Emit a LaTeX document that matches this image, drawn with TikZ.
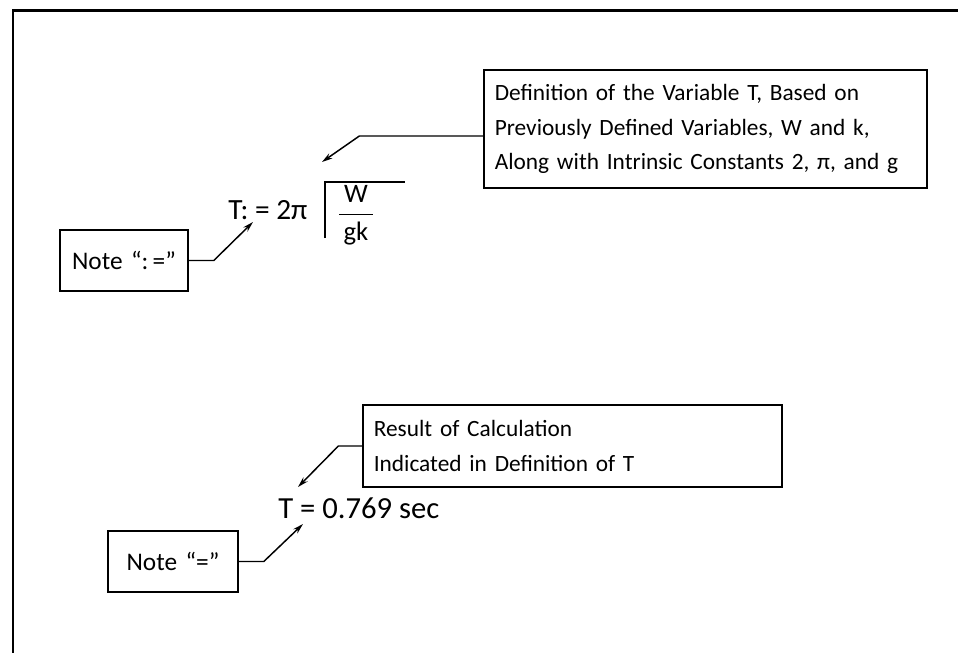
\documentclass[tikz,border=0pt]{standalone}
\usepackage{fontspec}
\setmainfont{Carlito}
\usetikzlibrary{arrows.meta}

\begin{document}
\begin{tikzpicture}[x=0.75pt,y=0.75pt,yscale=-1,xscale=1,
  notebox/.style={draw,line width=1.2pt,rectangle,inner xsep=8pt,inner ysep=0pt,align=left,font=\fontsize{17.5}{26}\selectfont},
  link/.style={line width=1.1pt,-{Stealth[length=8pt,width=4.5pt]}},
  formula/.style={inner sep=0pt,font=\fontsize{22}{24}\selectfont}]
\useasboundingbox (0,0) rectangle (958,653);

% Frame
\draw[line width=2pt] (13,653) -- (13,10.5) -- (958,10.5);

% Text Node
\node[notebox,text width=316pt,minimum height=88.5pt] (defbox) at (705.5,129)
  {Definition of the Variable T, Based on\\Previously Defined Variables, W and k,\\Along with Intrinsic Constants 2, π, and g};
% Text Node
\node[notebox,align=center,font=\fontsize{19}{22}\selectfont,text width=80pt,minimum height=45.75pt] (defnote) at (124,260.5) {Note “:\,=”};
% Text Node
\node[formula,anchor=base west] (defeq) at (228,219) {T: = 2π};
% Text Node
\node[inner sep=0pt,font=\fontsize{20}{22}\selectfont] (frac) at (356,215)
  {$\displaystyle\frac{\mbox{\,W\,}}{\mbox{\,gk\,}}$};
% Radical
\draw[line width=1.1pt] (325,238) -- (325,182) -- (405,182);

% Text Node
\node[notebox,text width=298pt,minimum height=61.5pt] (resbox) at (572.5,446)
  {Result of Calculation\\Indicated in Definition of T};
% Text Node
\node[formula,font=\fontsize{23}{26}\selectfont,anchor=west] (resval) at (278,508) {T = 0.769 sec};
% Text Node
\node[notebox,align=center,font=\fontsize{19}{22}\selectfont,text width=81.5pt,minimum height=45.75pt] (resnote) at (173,561.5) {Note “=”};

% Arrow tips
\coordinate (defTip) at (322,162);
\coordinate (colonTip) at (253,222);
\coordinate (resTip) at (298,487);
\coordinate (eqTip) at (303,524);

% Connection
\draw[link] ([yshift=5.25pt]defbox.west) -- ++(-124,0) -- (defTip);
% Connection
\draw[link] (defnote.east) -- ++(25,0) -- (colonTip);
% Connection
\draw[link] (resbox.west) -- ++(-24,0) -- (resTip);
% Connection
\draw[link] (resnote.east) -- ++(25,0) -- (eqTip);

\end{tikzpicture}
\end{document}
